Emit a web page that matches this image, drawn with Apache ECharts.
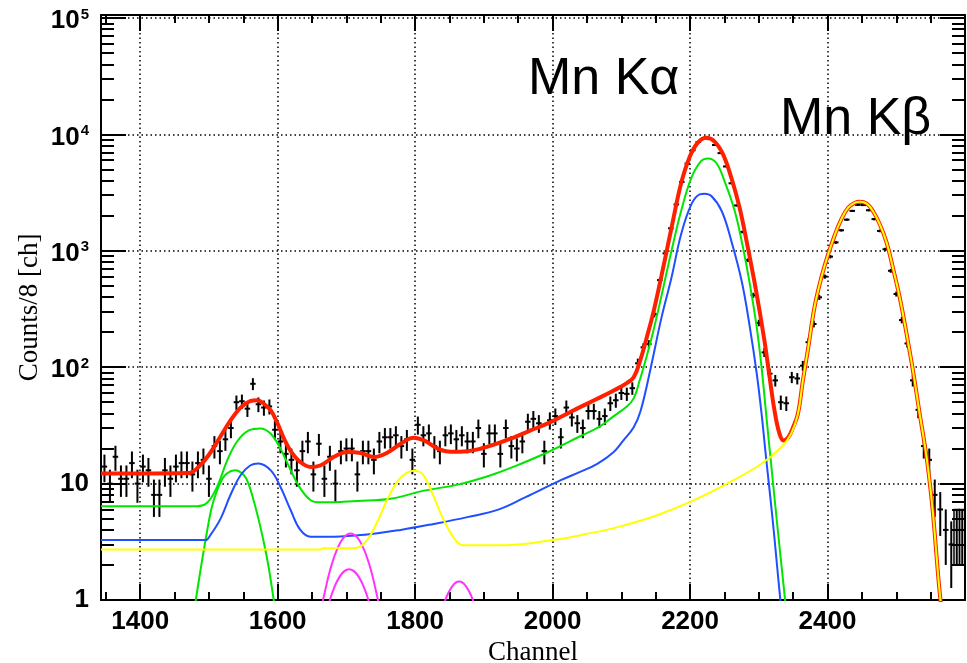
<!DOCTYPE html>
<html>
<head>
<meta charset="utf-8">
<script src="https://cdn.jsdelivr.net/npm/echarts@6/dist/echarts.min.js"></script>
<style>
  html, body { margin: 0; padding: 0; background: #fff; }
  #main { width: 967px; height: 663px; }
</style>
</head>
<body>
<div id="main"></div>
<script>
// histogram: 8 channel bins, first bin centred on channel 1348
var binStart = 1348;
var binWidth = 8;
var counts = [
  14, 10, 17, 11, 11, 15, 10, 14, 13, 8,
  8, 13, 11, 14, 15, 15, 12, 15, 16, 11,
  21, 19, 24, 30, 50, 51, 44, 72, 48, 45,
  46, 29, 23, 18, 16, 13, 19, 23, 12, 22,
  11, 17, 10, 19, 20, 20, 12, 19, 19, 16,
  23, 25, 25, 26, 21, 24, 16, 32, 26, 27,
  21, 19, 26, 27, 24, 26, 23, 23, 30, 18,
  27, 27, 18, 30, 21, 20, 23, 34, 36, 33,
  19, 35, 38, 25, 45, 37, 33, 30, 42, 42,
  36, 38, 49, 52, 60, 59, 66, 108, 148, 158,
  285, 560, 950, 1560, 2500, 3900, 5600, 7300, 8600, 9300,
  9100, 8100, 6900, 5300, 3800, 2450, 1450, 830, 415, 240,
  134, 88, 77, 50, 49, 82, 80, 103, 164, 235,
  398, 600, 890, 1180, 1500, 1850, 2200, 2480, 2470, 2230,
  1870, 1480, 1030, 673, 425, 254, 160, 77, 43, 21,
  16, 8, 6, 4, 3, 4, 4
];
// last bins are drawn as open error boxes
var boxedBins = [155, 156];

// fit curves, [channel, counts]
var redFit = [
  [1343, 12.2], [1400, 12.2], [1470, 12.3], [1487, 14.3], [1502, 18.4], [1517, 25.5],
  [1531, 34.5], [1546, 45], [1560, 51], [1570, 52], [1580, 48.5], [1590, 42.5],
  [1599, 33.7], [1609, 24.5], [1619, 19], [1633, 15.3], [1648, 13.9], [1662, 14.3],
  [1682, 17], [1701, 18.7], [1721, 18.3], [1740, 16.9], [1760, 18.5], [1779, 22],
  [1798, 24.8], [1813, 23.5], [1833, 20], [1852, 18.8], [1876, 19], [1896, 20],
  [1919, 22], [1944, 25], [1968, 28.6], [1992, 32.7], [2016, 38.5], [2040, 45.4],
  [2065, 53.5], [2089, 63], [2108, 73], [2118, 82], [2127, 112], [2137, 180],
  [2148, 320], [2163, 819], [2175, 1800], [2187, 3800], [2199, 6300], [2211, 8450],
  [2224, 9330], [2236, 8630], [2248, 6730], [2260, 4250], [2272, 2350], [2284, 1070],
  [2296, 455], [2308, 172], [2316, 80], [2323, 42], [2330, 27], [2336, 23.5],
  [2343, 25], [2350, 30.6], [2357, 40], [2364, 76], [2372, 148], [2381, 326],
  [2391, 589], [2401, 935], [2411, 1387], [2420, 1862], [2430, 2345], [2440, 2590],
  [2447, 2640], [2457, 2540], [2466, 2197], [2476, 1690], [2486, 1175], [2495, 718],
  [2505, 398], [2515, 193], [2525, 88], [2534, 40], [2544, 17], [2551, 7.7],
  [2556, 3.7], [2561, 1.6], [2566, 0.8]
];
var greenFit = [
  [1343, 6.4], [1483, 6.4], [1497, 6.8], [1512, 9.4], [1526, 15.5], [1541, 23],
  [1558, 28.6], [1575, 29.8], [1590, 26.8], [1604, 20], [1619, 13], [1633, 9.1],
  [1648, 7.2], [1662, 6.9], [1716, 7.1], [1764, 7.4], [1813, 8.7], [1862, 9.8],
  [1910, 11.8], [1944, 14], [1992, 18.5], [2040, 25.5], [2069, 31], [2089, 38],
  [2108, 46], [2118, 54], [2127, 78], [2137, 125], [2147, 210], [2158, 400],
  [2173, 1000], [2187, 2197], [2202, 4245], [2216, 5890], [2226, 6215], [2238, 5700],
  [2250, 3980], [2265, 2197], [2277, 1066], [2287, 517], [2297, 220], [2304, 100],
  [2311, 38], [2318, 14.6], [2328, 3.8], [2340, 0.8]
];
var greenPeak = [
  [1479, 0.85], [1489, 2], [1497, 3.8], [1504, 6.2], [1512, 8.8], [1519, 10.8],
  [1526, 12.2], [1538, 13], [1551, 11.8], [1558, 9.8], [1565, 7.2], [1572, 5],
  [1580, 3.1], [1587, 1.9], [1596, 0.85]
];
var blueFit = [
  [1343, 3.27], [1495, 3.27], [1502, 3.6], [1517, 5.0], [1531, 7.9], [1546, 11.8],
  [1560, 14.3], [1572, 14.9], [1590, 13], [1604, 9.4], [1619, 5.9], [1633, 4.0],
  [1648, 3.5], [1682, 3.5], [1730, 3.65], [1779, 4.0], [1827, 4.5], [1876, 5.15],
  [1922, 6], [1960, 7.6], [2012, 10.7], [2040, 12.6], [2065, 14.8], [2089, 18.7],
  [2103, 23.5], [2118, 30.5], [2128, 42], [2143, 100], [2158, 260], [2173, 589],
  [2187, 1387], [2202, 2512], [2214, 3055], [2221, 3090], [2231, 2953], [2246, 2197],
  [2260, 1216], [2275, 552], [2287, 220], [2297, 88], [2304, 40], [2310, 18],
  [2316, 8.4], [2322, 3.8], [2328, 1.6], [2333, 0.8]
];
var yellowFit = [
  [1343, 2.72], [1662, 2.72], [1666, 2.78], [1713, 2.8], [1730, 3.27], [1745, 4.7],
  [1759, 7.2], [1774, 10.4], [1787, 12.3], [1798, 12.9], [1811, 12], [1826, 8],
  [1840, 5.1], [1857, 3.37], [1870, 2.95], [1932, 2.96], [2000, 3.27], [2050, 3.7],
  [2096, 4.25], [2150, 5.3], [2201, 7], [2254, 10], [2304, 14.8], [2333, 20.6],
  [2347, 26.8], [2357, 39.8], [2364, 76], [2372, 148], [2381, 326], [2391, 589],
  [2401, 935], [2411, 1387], [2420, 1862], [2430, 2345], [2440, 2590], [2447, 2640],
  [2457, 2540], [2466, 2197], [2476, 1690], [2486, 1175], [2495, 718], [2505, 398],
  [2515, 193], [2525, 88], [2534, 40], [2544, 17], [2551, 7.7], [2556, 3.7],
  [2561, 1.6], [2566, 0.8]
];
var magentaA = [
  [1662, 0.8], [1666, 1], [1676, 1.78], [1686, 2.68], [1696, 3.43], [1706, 3.73],
  [1716, 3.43], [1726, 2.68], [1736, 1.78], [1746, 1], [1750, 0.8]
];
var magentaB = [
  [1673, 0.8], [1676, 1], [1683, 1.31], [1690, 1.58], [1697, 1.77], [1704, 1.84],
  [1711, 1.77], [1718, 1.58], [1725, 1.31], [1732, 1], [1735, 0.8]
];
var magentaC = [
  [1841, 0.85], [1844, 1], [1849, 1.17], [1854, 1.31], [1859, 1.41], [1864, 1.44],
  [1869, 1.41], [1874, 1.31], [1879, 1.17], [1884, 1], [1887, 0.85]
];

var xMajorTicks = [1400, 1600, 1800, 2000, 2200, 2400];
var xMinorTicks = [1350, 1450, 1500, 1550, 1650, 1700, 1750, 1850, 1900, 1950,
  2050, 2100, 2150, 2250, 2300, 2350, 2450, 2500, 2550, 2600];
var yMinorTicks = [];
for (var d = 1; d <= 10000; d *= 10) {
  for (var k = 2; k <= 9; k++) yMinorTicks.push(k * d);
}

var points = counts.map(function (n, i) {
  return [binStart + i * binWidth, n, boxedBins.indexOf(i) >= 0 ? 1 : 0];
});

var xMin = 1343, xMax = 2600, yMin = 1, yMax = 106000;
var labelFont = 'Liberation Sans';

function yLabel(v) {
  var l = Math.log10(v), p = Math.round(l);
  if (Math.abs(l - p) > 1e-6) return '';
  if (p === 0) return '1';
  if (p === 1) return '10';
  return '{b|10}{sup|' + p + '}';
}

function renderPoint(params, api) {
  var c = api.value(0), n = api.value(1), boxed = api.value(2);
  var e = Math.sqrt(n);
  var a = api.coord([c - binWidth / 2, n]);
  var b = api.coord([c + binWidth / 2, n]);
  var lo = api.coord([c, Math.max(n - e, 0.5)]);
  var hi = api.coord([c, n + e]);
  var st = { stroke: '#000', lineWidth: 2 };
  var kids = [
    { type: 'line', shape: { x1: a[0], y1: a[1], x2: b[0], y2: b[1] }, style: st },
    { type: 'line', shape: { x1: lo[0], y1: lo[1], x2: hi[0], y2: hi[1] }, style: st }
  ];
  if (boxed) {
    kids.push({
      type: 'rect',
      shape: { x: a[0], y: hi[1], width: b[0] - a[0], height: lo[1] - hi[1] },
      style: { fill: 'none', stroke: '#000', lineWidth: 1.5 }
    });
  }
  return { type: 'group', children: kids };
}

function fitLine(data, color, width, z) {
  return {
    type: 'line', data: data, showSymbol: false, symbol: 'none',
    smooth: 0.4, clip: true, z: z,
    lineStyle: { color: color, width: width, join: 'round' }, silent: true
  };
}

var frame = { show: true, onZero: false, lineStyle: { color: '#000', width: 2 } };
var dotted = { show: true, lineStyle: { color: '#000', width: 1.5, type: [1.5, 3] } };

var chart = echarts.init(document.getElementById('main'));
chart.setOption({
  animation: false,
  backgroundColor: '#fff',
  grid: { left: 101, right: 2, top: 15, bottom: 63, containLabel: false, outerBoundsMode: 'none' },
  xAxis: [
    {
      type: 'value', min: xMin, max: xMax, position: 'bottom',
      axisLine: frame,
      axisTick: { inside: true, length: 16, customValues: xMajorTicks, lineStyle: { color: '#000', width: 2 } },
      axisLabel: {
        customValues: xMajorTicks, margin: 9, color: '#000', fontSize: 26, fontWeight: 'bold', fontFamily: labelFont,
        formatter: function (v) { return String(v); }
      },
      splitLine: dotted,
      name: 'Channel', nameLocation: 'middle', nameGap: 37,
      nameTextStyle: { fontFamily: 'Liberation Serif', fontSize: 27, color: '#000' }
    },
    {
      type: 'value', min: xMin, max: xMax, position: 'bottom',
      axisLine: { show: false },
      axisTick: { inside: true, length: 8, customValues: xMinorTicks, lineStyle: { color: '#000', width: 2 } },
      axisLabel: { show: false }, splitLine: { show: false }
    },
    {
      type: 'value', min: xMin, max: xMax, position: 'top',
      axisLine: frame,
      axisTick: { inside: true, length: 16, customValues: xMajorTicks, lineStyle: { color: '#000', width: 2 } },
      axisLabel: { show: false }, splitLine: { show: false }
    },
    {
      type: 'value', min: xMin, max: xMax, position: 'top',
      axisLine: { show: false },
      axisTick: { inside: true, length: 8, customValues: xMinorTicks, lineStyle: { color: '#000', width: 2 } },
      axisLabel: { show: false }, splitLine: { show: false }
    }
  ],
  yAxis: [
    {
      type: 'log', logBase: 10, min: yMin, max: yMax, position: 'left',
      axisLine: frame,
      axisTick: { inside: true, length: 25, lineStyle: { color: '#000', width: 2 } },
      axisLabel: {
        formatter: yLabel, margin: 12, color: '#000', fontSize: 26, fontWeight: 'bold', fontFamily: labelFont,
        rich: {
          b: { fontSize: 26, fontWeight: 'bold', fontFamily: labelFont, color: '#000', verticalAlign: 'bottom' },
          sup: { fontSize: 15, fontWeight: 'bold', fontFamily: labelFont, color: '#000', verticalAlign: 'bottom', padding: [5, 0, 12, 1] }
        }
      },
      splitLine: dotted,
      name: 'Counts/8 [ch]', nameLocation: 'middle', nameGap: 58, nameRotate: 90, nameMoveOverlap: false,
      nameTextStyle: { fontFamily: 'Liberation Serif', fontSize: 27, color: '#000' }
    },
    {
      type: 'log', logBase: 10, min: yMin, max: yMax, position: 'left',
      axisLine: { show: false },
      axisTick: { inside: true, length: 13, customValues: yMinorTicks, lineStyle: { color: '#000', width: 2 } },
      axisLabel: { show: false }, splitLine: { show: false }
    },
    {
      type: 'log', logBase: 10, min: yMin, max: yMax, position: 'right',
      axisLine: frame,
      axisTick: { inside: true, length: 25, lineStyle: { color: '#000', width: 2 } },
      axisLabel: { show: false }, splitLine: { show: false }
    },
    {
      type: 'log', logBase: 10, min: yMin, max: yMax, position: 'right',
      axisLine: { show: false },
      axisTick: { inside: true, length: 13, customValues: yMinorTicks, lineStyle: { color: '#000', width: 2 } },
      axisLabel: { show: false }, splitLine: { show: false }
    }
  ],
  graphic: [
    { type: 'text', left: 528, top: 54, z: 100, style: { text: 'Mn Kα', font: '52px "Liberation Sans"', fill: '#000' } },
    { type: 'text', left: 780, top: 94, z: 100, style: { text: 'Mn Kβ', font: '52px "Liberation Sans"', fill: '#000' } }
  ],
  series: [
    { type: 'custom', data: points, renderItem: renderPoint, clip: true, z: 2, silent: true },
    fitLine(greenFit, '#00e600', 2, 3),
    fitLine(greenPeak, '#00e600', 2, 3),
    fitLine(blueFit, '#1f4fff', 2, 3),
    fitLine(magentaA, '#ff33ff', 2, 3),
    fitLine(magentaB, '#ff33ff', 2, 3),
    fitLine(magentaC, '#ff33ff', 2, 3),
    fitLine(redFit, '#ff2000', 4, 4),
    fitLine(yellowFit, '#ffff00', 2, 5)
  ]
});
</script>
</body>
</html>
